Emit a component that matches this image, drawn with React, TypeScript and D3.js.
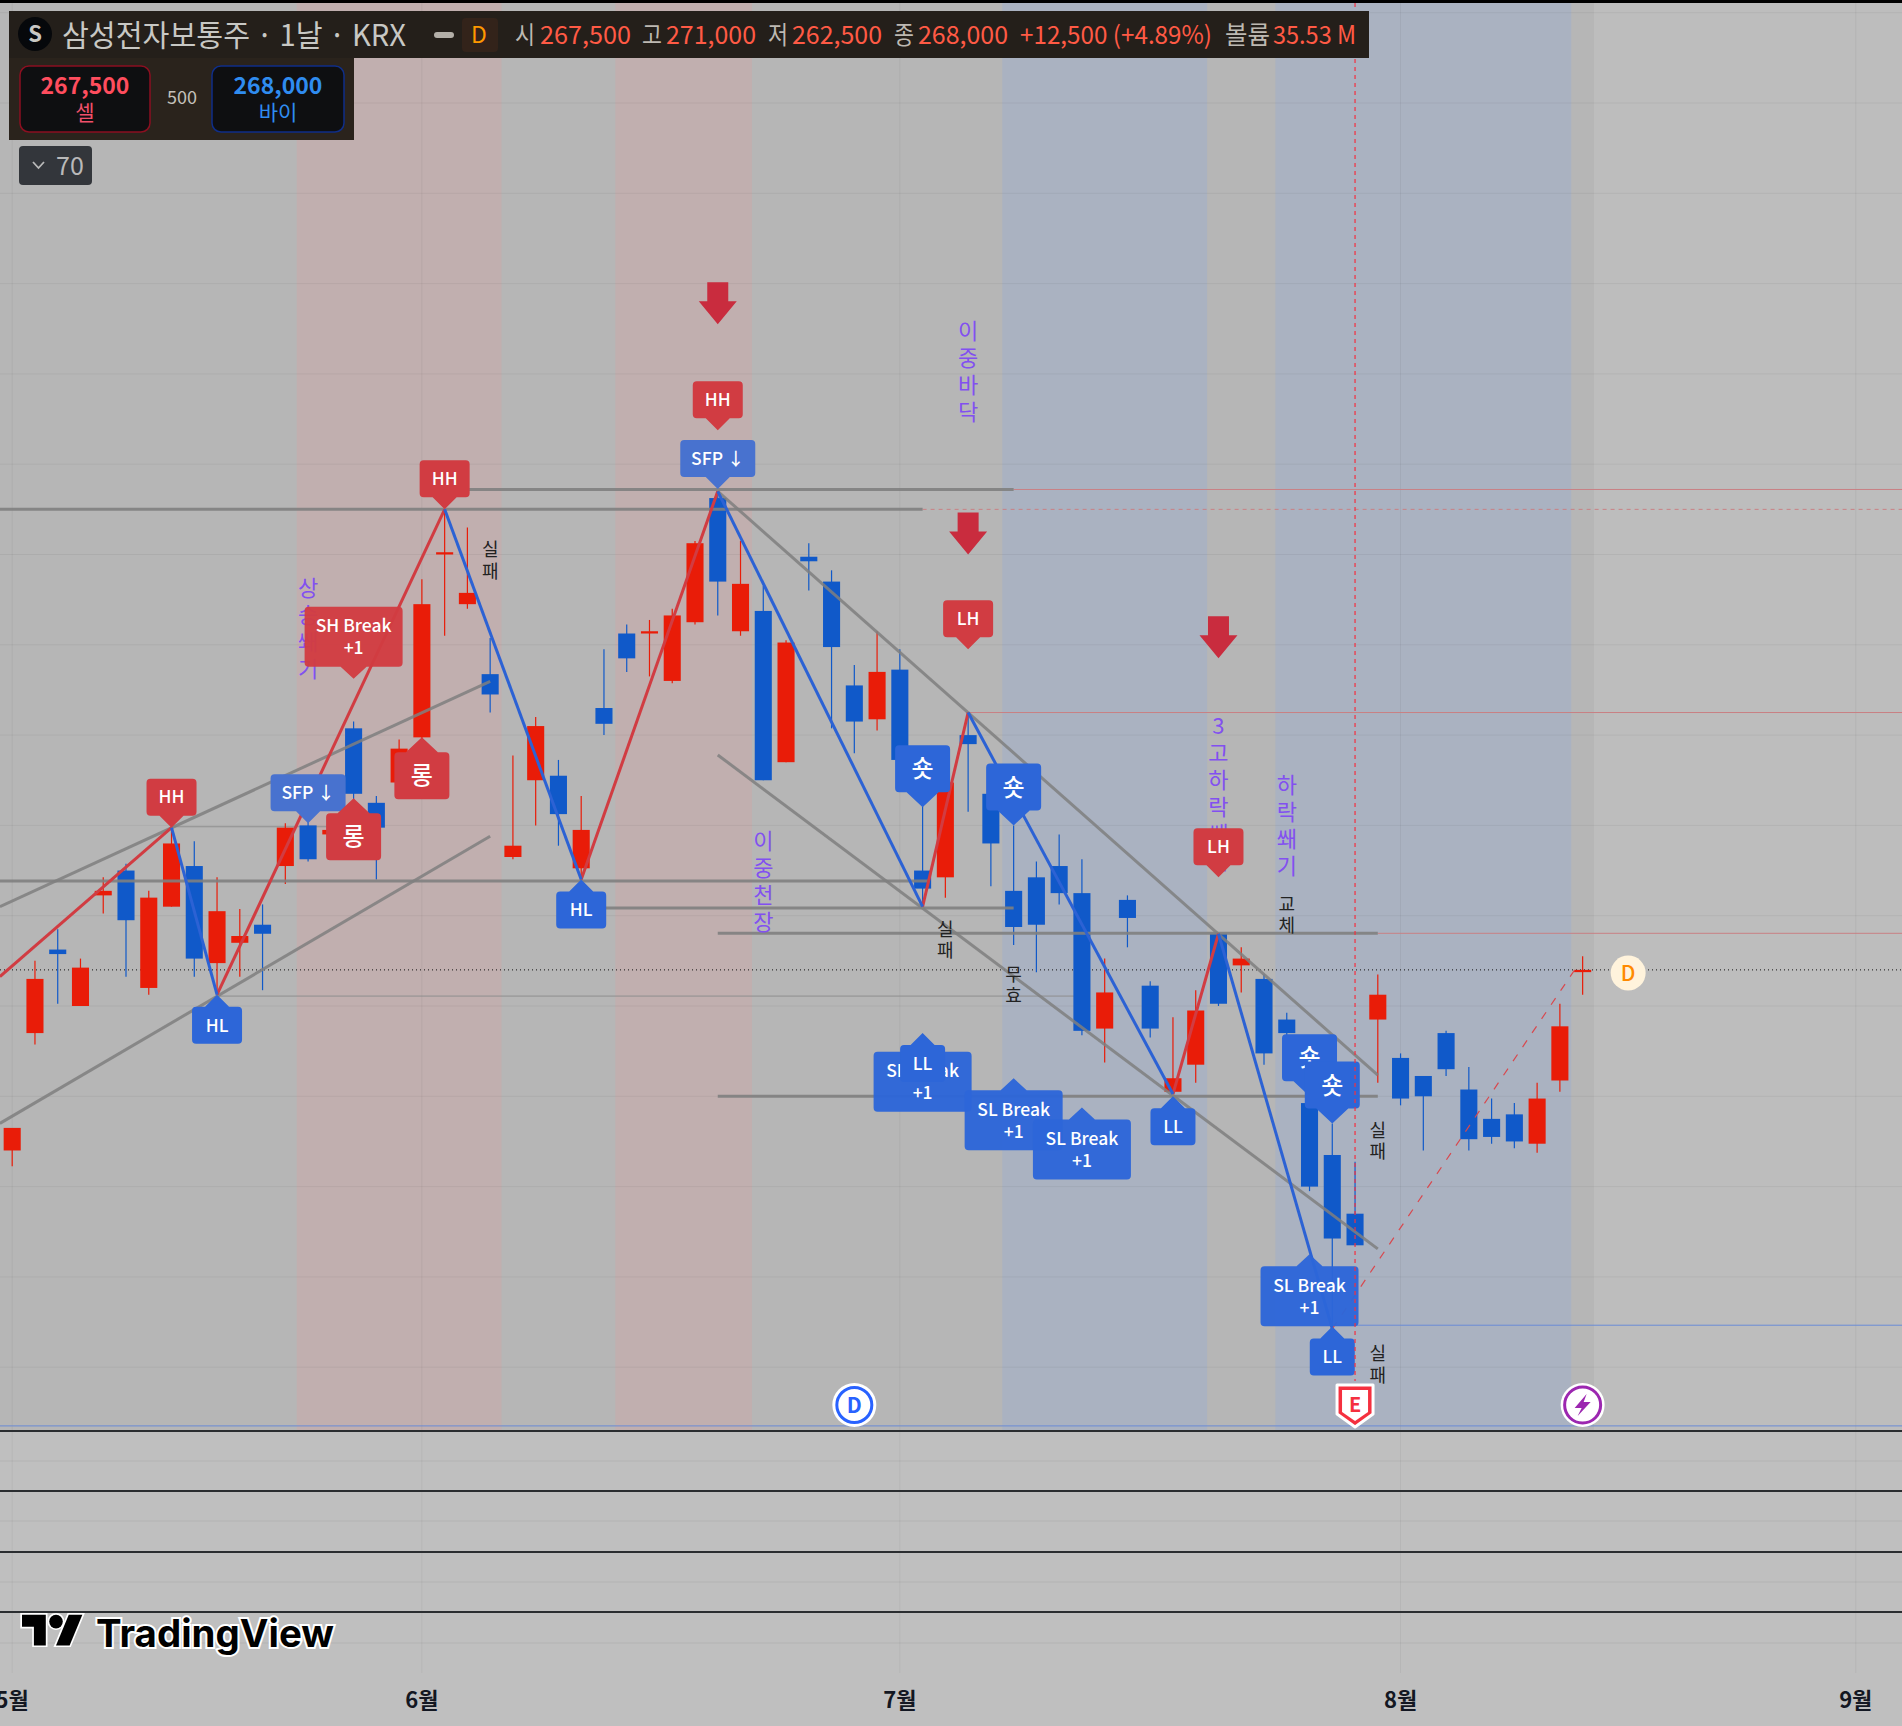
import * as d3 from "d3";

// daily candles, KRW, left to right
const opens = [228000,254000,272500,260000,284500,290000,264000,282000,291000,269500,274000,278000,291000,300000,298000,321500,305000,309500,319500,360000,349000,333500,293000,310000,311000,290500,326000,342500,342500,332000,345000,372500,343000,347500,314000,359500,354000,331000,323500,334500,290000,288500,320000,307000,285500,288500,291000,285000,255000,283500,264500,241000,247000,276000,269000,266000,257000,238500,227000,214000,257000,248500,244500,254000,241500,235000,236000,229500,243500,267500];
const highs = [233000,270000,277000,270500,288500,291500,285500,299500,296500,288500,281500,282500,300500,301500,300000,323000,306500,319000,354500,370000,366000,341500,315500,324000,314500,306500,339000,344500,345500,348000,363000,374000,363000,353000,341000,362500,356500,335500,343000,339000,304500,312000,325000,311000,300000,292000,298000,292500,270500,284500,265500,257500,263500,276000,273000,267000,258500,240000,234000,225500,267000,249500,244500,254500,246500,239500,238500,243000,260500,271000];
const lows = [224500,251500,260500,260000,280500,266500,262500,282000,266500,262500,266500,263500,287000,292000,297000,305000,288000,309500,317500,342000,348000,325000,292500,300000,295500,288000,320000,334000,333000,331500,344500,346500,342000,310000,314000,352000,321500,316000,321000,314000,282000,284000,303000,286500,273500,267500,282500,253500,247500,273000,253000,240500,243000,260000,263000,247000,252500,219000,188500,207000,243000,238000,228000,244500,228000,229500,228500,227500,241000,262500];
const closes = [233000,266000,271500,268500,285500,279000,284000,296000,270500,281000,275500,276000,299500,292500,299000,307000,299500,317000,349000,360500,351500,329000,295500,322000,302500,299000,322500,337000,343000,346500,362500,354000,353500,310000,340500,358500,339500,323000,334000,314500,286000,309500,318000,296000,277500,278000,285000,254500,263000,279500,255000,244000,259000,260500,270500,249500,254000,220000,208500,207000,262500,239500,240000,246000,230500,231000,230000,239500,255500,268000];

const lastClose = 268000;
const priceGrid = d3.range(100000, 500000, 20000);
const monthLabels = ["5월", "6월", "7월", "8월", "9월"];
const monthIndex = [0, 18, 39, 61, 81];

// background sessions: [from bar, to bar, colour]
const zones: [number, number, string][] = [
  [12.5, 21.5, "#c1afaf"],
  [26.5, 32.5, "#c1afaf"],
  [43.5, 52.5, "#aab2c1"],
  [55.5, 68.5, "#aab2c1"],
];

// swing legs [bar, price]
const upLegs: [number, number][][] = [
  [[-0.54, 266500], [7, 299500]],
  [[9, 262500], [19, 370000]],
  [[25, 288000], [31, 374000]],
  [[40, 282000], [42, 325000]],
  [[51, 240500], [53, 276000]],
];
const downLegs: [number, number][][] = [
  [[7, 299500], [9, 262500]],
  [[19, 370000], [25, 288000]],
  [[31, 374000], [40, 282000]],
  [[42, 325000], [51, 240500]],
  [[53, 276000], [58, 188500]],
];
const projection: [number, number][] = [[58, 188500], [68.85, 269500]];

const channels: [number, number][][] = [
  [[-0.54, 282000], [21, 331900]],
  [[-0.54, 234000], [21, 297600]],
  [[31, 374000], [60, 244700]],
  [[31, 315600], [60, 206200]],
];

// levels: [price, from bar, to bar]
const heavyLevels: [number, number, number][] = [
  [370000, -0.54, 40],
  [374400, 19.9, 44],
  [287700, -0.54, 40.3],
  [281700, 26, 44],
  [276100, 31, 60],
  [240000, 31, 60],
];
const faintLevels: [number, number, number][] = [
  [299700, 7, 16],
  [262200, 9, 47],
];
const redRays: [number, number, string | undefined][] = [
  [370000, 40, "4 4"],
  [374400, 44, undefined],
  [325000, 42, undefined],
  [276100, 60, undefined],
];
const blueRays: [number, number][] = [
  [189300, 58],
  [167000, -0.54],
];

const arrowMarks: [number, number][] = [[31, 411000], [42, 360000], [53, 337000]];

type Mark = [string[], number, number, "up" | "down", "red" | "blue" | "sfp"];
const markers: Mark[] = [
  [["HH"], 7, 299500, "down", "red"],
  [["HL"], 9, 262500, "up", "blue"],
  [["SH Break", "+1"], 15, 332500, "down", "red"],
  [["SFP ↓"], 13, 300500, "down", "sfp"],
  [["롱"], 15, 306000, "up", "red"],
  [["롱"], 18, 319500, "up", "red"],
  [["HH"], 19, 370000, "down", "red"],
  [["HL"], 25, 288000, "up", "blue"],
  [["HH"], 31, 387500, "down", "red"],
  [["SFP ↓"], 31, 374500, "down", "sfp"],
  [["LH"], 42, 339000, "down", "red"],
  [["숏"], 40, 304000, "down", "blue"],
  [["숏"], 44, 300000, "down", "blue"],
  [["SL Break", "+1"], 40, 252500, "up", "blue"],
  [["LL"], 40, 254000, "up", "blue"],
  [["SL Break", "+1"], 44, 244000, "up", "blue"],
  [["SL Break", "+1"], 47, 237500, "up", "blue"],
  [["LL"], 51, 240000, "up", "blue"],
  [["LH"], 53, 288500, "down", "red"],
  [["SL Break", "+1"], 57, 205000, "up", "blue"],
  [["LL"], 58, 189000, "up", "blue"],
  [["숏"], 57, 240000, "down", "blue"],
  [["숏"], 58, 234000, "down", "blue"],
];

const purpleNotes: [string, number, number][] = [
  ["상승쐐기", 13, 352500],
  ["이중천장", 33, 296500],
  ["이중바닥", 42, 409500],
  ["3고하락쐐기", 53, 322000],
  ["하락쐐기", 56, 309000],
];
const blackNotes: [string, number, number][] = [
  ["실패", 21, 361000],
  ["실패", 41, 277000],
  ["무효", 44, 267000],
  ["교체", 56, 282500],
  ["실패", 60, 232500],
  ["실패", 60, 183000],
];

const ohlcTexts: [string, number, number, string][] = [
  ["시", 515, 20, "#bdb9b2"],
  ["267,500", 540, 91, "#ff5a45"],
  ["고", 642, 20, "#bdb9b2"],
  ["271,000", 666, 90, "#ff5a45"],
  ["저", 768, 20, "#bdb9b2"],
  ["262,500", 792, 90, "#ff5a45"],
  ["종", 894, 20, "#bdb9b2"],
  ["268,000", 918, 90, "#ff5a45"],
  ["+12,500 (+4.89%)", 1020, 192, "#ff5a45"],
  ["볼륨", 1225, 45, "#bdb9b2"],
  ["35.53 M", 1273, 83, "#ff5a45"],
];

const paneLines = [1431, 1491, 1552, 1612];
const paneGrid = [1461, 1521, 1582, 1643];

const WIDTH = 1902;
const HEIGHT = 1726;
const FONT = "'Noto Sans CJK KR', 'Noto Sans', sans-serif";

const x = d3.scaleLinear().domain([0, 69]).range([12.2, 12.2 + 69 * 22.76]);
const y = d3.scaleLinear().domain([260000, 460000]).range([1006, 103]);
const bodyWidth = (x(1) - x(0)) * 0.75;

const lineGen = d3
  .line<[number, number]>()
  .x((d) => x(d[0]))
  .y((d) => y(d[1]));

const fills = { red: "#d13c42", blue: "#2d66d8", sfp: "#4872cf" };

// label box size depends only on its text
function boxSize(lines: string[]) {
  if (lines.length === 2) return { w: 98, h: 60, tipW: 13, tipH: 12 };
  if (lines[0].startsWith("SFP")) return { w: 75, h: 37, tipW: 12, tipH: 12 };
  if (lines[0] === "숏" || lines[0] === "롱")
    return { w: 55, h: 47, tipW: 16, tipH: 15 };
  if (lines[0] === "LL") return { w: 45, h: 37, tipW: 12, tipH: 12 };
  return { w: 50, h: 37, tipW: 12, tipH: 12 };
}

function markerPath(w: number, h: number, tipW: number, tipH: number, dir: string) {
  const s = dir === "down" ? -1 : 1;
  const r = 4;
  const near = s * tipH;
  const far = s * (tipH + h);
  const p = d3.path();
  p.moveTo(0, 0);
  p.lineTo(tipW, near);
  p.lineTo(w / 2 - r, near);
  p.quadraticCurveTo(w / 2, near, w / 2, near + s * r);
  p.lineTo(w / 2, far - s * r);
  p.quadraticCurveTo(w / 2, far, w / 2 - r, far);
  p.lineTo(-w / 2 + r, far);
  p.quadraticCurveTo(-w / 2, far, -w / 2, far - s * r);
  p.lineTo(-w / 2, near + s * r);
  p.quadraticCurveTo(-w / 2, near, -w / 2 + r, near);
  p.lineTo(-tipW, near);
  p.closePath();
  return p.toString();
}

function Marker({ m }: { m: Mark }) {
  const [lines, bar, price, dir, kind] = m;
  const { w, h, tipW, tipH } = boxSize(lines);
  const s = dir === "down" ? -1 : 1;
  const cy = s * (tipH + h / 2);
  const big = lines[0] === "숏" || lines[0] === "롱";
  return (
    <g transform={`translate(${x(bar)},${y(price)})`}>
      <path
        d={markerPath(w, h, tipW, tipH, dir)}
        fill={fills[kind]}
        opacity={lines.length === 2 ? 0.96 : 1}
      />
      {lines.map((t, i) => (
        <text
          key={i}
          x={0}
          y={cy + (i - (lines.length - 1) / 2) * 22}
          dy="0.36em"
          textAnchor="middle"
          fill="#fff"
          fontSize={big ? 24 : 17.5}
          fontWeight={500}
        >
          {t}
        </text>
      ))}
    </g>
  );
}

function VerticalNote({
  note,
  fill,
  size,
  gap,
}: {
  note: [string, number, number];
  fill: string;
  size: number;
  gap: number;
}) {
  const [text, bar, price] = note;
  return (
    <text x={x(bar)} y={y(price)} textAnchor="middle" fill={fill} fontSize={size}>
      {Array.from(text).map((c, i) => (
        <tspan key={i} x={x(bar)} y={y(price) + i * gap} dy="0.36em">
          {c}
        </tspan>
      ))}
    </text>
  );
}

export default function App() {
  const top = 3;
  const bottom = paneLines[0];
  const eventY = 1405;
  return (
    <svg
      width={WIDTH}
      height={HEIGHT}
      style={{ position: "fixed", left: 0, top: 0, display: "block" }}
      fontFamily={FONT}
    >
      <rect width={WIDTH} height={HEIGHT} fill="#bfbfbf" />
      {/* main pane, dimmed up to the last bar */}
      <rect x={x(69.5)} y={top} width={WIDTH - x(69.5)} height={bottom - top} fill="#bdbdbd" />
      <rect x={0} y={top} width={x(69.5)} height={bottom - top} fill="#b6b6b6" />
      {zones.map(([a, b, c], i) => (
        <rect key={i} x={x(a)} y={top} width={x(b) - x(a)} height={bottom - top} fill={c} />
      ))}

      {/* grid */}
      {priceGrid
        .filter((p) => y(p) > top && y(p) < bottom)
        .map((p) => (
          <line key={p} x1={0} x2={WIDTH} y1={y(p)} y2={y(p)} stroke="#000" strokeOpacity={0.05} />
        ))}
      {paneGrid.map((g) => (
        <line key={g} x1={0} x2={WIDTH} y1={g} y2={g} stroke="#000" strokeOpacity={0.06} />
      ))}
      {monthIndex.map((m) => (
        <line key={m} x1={x(m)} x2={x(m)} y1={top} y2={1673} stroke="#000" strokeOpacity={0.05} />
      ))}
      <rect x={0} y={0} width={WIDTH} height={top} fill="#000" />

      {/* thin levels and rays */}
      {faintLevels.map(([p, a, b], i) => (
        <line key={i} x1={x(a)} x2={x(b)} y1={y(p)} y2={y(p)} stroke="#8f8f8f" strokeWidth={1} />
      ))}
      {redRays.map(([p, a, dash], i) => (
        <line
          key={i}
          x1={x(a)}
          x2={WIDTH}
          y1={y(p)}
          y2={y(p)}
          stroke="#c98084"
          strokeWidth={1}
          strokeDasharray={dash}
        />
      ))}
      {blueRays.map(([p, a], i) => (
        <line key={i} x1={x(a)} x2={WIDTH} y1={y(p)} y2={y(p)} stroke="#6a8bd6" strokeWidth={1} />
      ))}
      <line
        x1={0}
        x2={WIDTH}
        y1={y(lastClose)}
        y2={y(lastClose)}
        stroke="#111"
        strokeWidth={1}
        strokeDasharray="1 3"
      />

      {/* candles */}
      {opens.map((o, i) => {
        const c = closes[i];
        const color = c >= o ? "#e91c08" : "#1059c9";
        const bodyTop = y(Math.max(o, c));
        const bodyH = Math.max(2, y(Math.min(o, c)) - bodyTop);
        return (
          <g key={i}>
            <line
              x1={x(i)}
              x2={x(i)}
              y1={y(highs[i])}
              y2={y(lows[i])}
              stroke={color}
              strokeWidth={1.2}
            />
            <rect x={x(i) - bodyWidth / 2} y={bodyTop} width={bodyWidth} height={bodyH} fill={color} />
          </g>
        );
      })}

      {/* drawn levels and channels */}
      {heavyLevels.map(([p, a, b], i) => (
        <line
          key={i}
          x1={x(a)}
          x2={x(b)}
          y1={y(p)}
          y2={y(p)}
          stroke="#7f7f7f"
          strokeOpacity={0.9}
          strokeWidth={3}
        />
      ))}
      {channels.map((c, i) => (
        <path key={i} d={lineGen(c) ?? ""} stroke="#7f7f7f" strokeOpacity={0.85} strokeWidth={3} fill="none" />
      ))}

      {/* swings */}
      {upLegs.map((l, i) => (
        <path key={i} d={lineGen(l) ?? ""} stroke="#d13c42" strokeWidth={3} fill="none" />
      ))}
      {downLegs.map((l, i) => (
        <path key={i} d={lineGen(l) ?? ""} stroke="#2c62d4" strokeWidth={3} fill="none" />
      ))}
      <path
        d={lineGen(projection) ?? ""}
        stroke="#d8484e"
        strokeWidth={1.2}
        strokeDasharray="8 9"
        fill="none"
      />

      {purpleNotes.map((n, i) => (
        <VerticalNote key={i} note={n} fill="#8250f0" size={22} gap={27} />
      ))}
      {blackNotes.map((n, i) => (
        <VerticalNote key={i} note={n} fill="#222" size={18} gap={21.5} />
      ))}

      {arrowMarks.map(([b, p], i) => (
        <path
          key={i}
          transform={`translate(${x(b)},${y(p)})`}
          d="M0 0L-19 -23H-10.5V-42H10.5V-23H19Z"
          fill="#c92c3e"
        />
      ))}

      {markers.map((m, i) => (
        <Marker key={i} m={m} />
      ))}

      {/* earnings marker runs above the labels */}
      <line
        x1={x(59)}
        x2={x(59)}
        y1={top}
        y2={bottom - 50}
        stroke="#f5303f"
        strokeWidth={1.2}
        strokeDasharray="4 4"
      />

      {/* event badges */}
      <g transform={`translate(${x(37)},${eventY})`}>
        <circle r={22} fill="#fff" />
        <circle r={17.5} fill="none" stroke="#2962ff" strokeWidth={3} />
        <text textAnchor="middle" dy="0.36em" fontSize={21} fontWeight={700} fill="#2962ff">D</text>
      </g>
      <g transform={`translate(${x(59)},${eventY})`}>
        <path d="M-18 -20H18V9L0 22L-18 9Z" fill="#f5303f" stroke="#fff" strokeWidth={3} strokeLinejoin="round" />
        <path d="M-13 -15H13V7L0 16L-13 7Z" fill="#fff" />
        <text textAnchor="middle" y={0} dy="0.36em" fontSize={20} fontWeight={700} fill="#f5303f">E</text>
      </g>
      <g transform={`translate(${x(69)},${eventY})`}>
        <circle r={22} fill="#fff" />
        <circle r={18} fill="none" stroke="#9c27b0" strokeWidth={3} />
        <path d="M4 -11L-8 3H-1L-5 11L8 -3H1Z" fill="#9c27b0" />
      </g>
      <g transform={`translate(${x(71)},973)`}>
        <circle r={17.5} fill="#fff3dc" />
        <text textAnchor="middle" dy="0.36em" fontSize={21} fontWeight={500} fill="#ff8a00">D</text>
      </g>

      {/* lower panes */}
      {paneLines.map((p) => (
        <line key={p} x1={0} x2={WIDTH} y1={p} y2={p} stroke="#2a2d30" strokeWidth={1.8} />
      ))}

      {/* month axis */}
      {monthIndex.map((m, i) => (
        <text key={m} x={x(m)} y={1700} dy="0.36em" textAnchor="middle" fontSize={22} fontWeight={700} fill="#131722">
          {monthLabels[i]}
        </text>
      ))}

      {/* watermark */}
      <g transform="translate(22,1608) scale(1.7)" fill="#000" stroke="#fff" strokeWidth={2} paintOrder="stroke">
        <path d="M14 22H7V11H0V4h14v18z" />
        <path d="M28 22h-8l7.5-18h8L28 22z" />
        <circle cx={20} cy={8} r={4} />
      </g>
      <text
        x={96}
        y={1647}
        fontFamily="Inter, 'Open Sans', sans-serif"
        fontSize={38}
        fontWeight={700}
        textLength={238}
        lengthAdjust="spacingAndGlyphs"
        fill="#000"
        stroke="#fff"
        strokeWidth={4}
        paintOrder="stroke"
      >
        TradingView
      </text>

      {/* legend */}
      <rect x={9} y={11} width={1360} height={47} fill="#241f1a" />
      <rect x={9} y={58} width={345} height={82} fill="#2a231c" />
      <circle cx={35} cy={34} r={17} fill="#06080b" />
      <text x={35} y={34} dy="0.36em" textAnchor="middle" fontSize={22} fontWeight={700} fill="#c8c8c4">S</text>
      <text x={62} y={46} fontSize={30} textLength={344} lengthAdjust="spacingAndGlyphs" fill="#c8c8c4">
        삼성전자보통주 · 1날 · KRX
      </text>
      <rect x={434} y={32} width={20} height={6} rx={3} fill="#b3afa8" />
      <rect x={462} y={18} width={36} height={34} rx={4} fill="#33231a" />
      <text x={479} y={35} dy="0.36em" textAnchor="middle" fontSize={23} fill="#ff9800">D</text>
      {ohlcTexts.map(([t, tx, len, c], i) => (
        <text key={i} x={tx} y={44} fontSize={25} textLength={len} lengthAdjust="spacingAndGlyphs" fill={c}>
          {t}
        </text>
      ))}
      <rect x={20} y={66} width={130} height={66} rx={9} fill="#0e0f11" stroke="#8b0f20" strokeWidth={1.5} />
      <text x={85} y={86} dy="0.36em" textAnchor="middle" fontSize={23} fontWeight={700} fill="#ff4d5e">267,500</text>
      <text x={85} y={112} dy="0.36em" textAnchor="middle" fontSize={21} fill="#f0506a">셀</text>
      <text x={182} y={98} dy="0.36em" textAnchor="middle" fontSize={18} fill="#c4c0ba">500</text>
      <rect x={212} y={66} width={132} height={66} rx={9} fill="#0e0f11" stroke="#0f2e88" strokeWidth={1.5} />
      <text x={278} y={86} dy="0.36em" textAnchor="middle" fontSize={23} fontWeight={700} fill="#2f8cf0">268,000</text>
      <text x={278} y={112} dy="0.36em" textAnchor="middle" fontSize={21} fill="#2f8cf0">바이</text>
      <rect x={19} y={146} width={73} height={39} rx={4} fill="#33363b" />
      <path d="M33 162L38.5 168L44 162" fill="none" stroke="#b9b9b9" strokeWidth={1.8} />
      <text x={70} y={166} dy="0.36em" textAnchor="middle" fontSize={25} fill="#b9b9b9">70</text>
    </svg>
  );
}
